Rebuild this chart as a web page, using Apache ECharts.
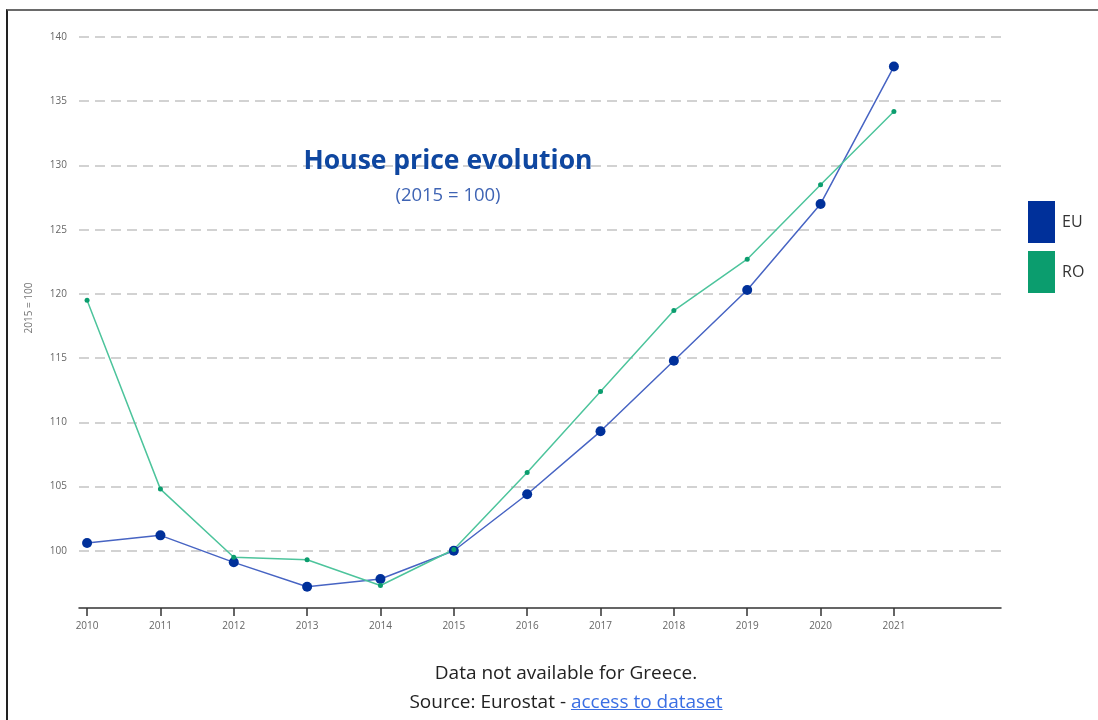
<!DOCTYPE html>
<html>
<head>
<meta charset="utf-8">
<title>House price evolution</title>
<script src="https://cdn.jsdelivr.net/npm/echarts@6/dist/echarts.min.js"></script>
<style>
  html, body { margin: 0; padding: 0; background: #fff; overflow: hidden; }
  #wrap { position: relative; width: 1098px; height: 720px; overflow: hidden; }
  #chart { width: 1098px; height: 720px; }
  #frame {
    position: absolute; left: 6px; top: 9px; width: 1200px; height: 800px;
    border-top: 2px solid #6a6a6a; border-left: 2px solid #222;
    pointer-events: none;
  }
  .note {
    position: absolute; left: 0; width: 1132px; text-align: center;
    font-family: "Open Sans", sans-serif; font-size: 19px; color: #222;
  }
  .note a { color: #3b6fe3; text-decoration: underline; }
</style>
</head>
<body>
<div id="wrap">
  <div id="chart"></div>
  <div id="frame"></div>
  <div class="note" style="top: 659px;">Data not available for Greece.</div>
  <div class="note" style="top: 688px;">Source: Eurostat - <a href="#">access to dataset</a></div>
</div>
<script>
// house price index, 2015 = 100
const years = [2010, 2011, 2012, 2013, 2014, 2015, 2016, 2017, 2018, 2019, 2020, 2021];
const euValues = [100.6, 101.2, 99.1, 97.2, 97.8, 100.0, 104.4, 109.3, 114.8, 120.3, 127.0, 137.7];
const roValues = [119.5, 104.8, 99.5, 99.3, 97.3, 100.1, 106.1, 112.4, 118.7, 122.7, 128.5, 134.2];

const chart = echarts.init(document.getElementById('chart'));

chart.setOption({
    animation: false,
    textStyle: { fontFamily: '"Open Sans", sans-serif' },
    title: [
        {
            text: 'House price evolution',
            left: 443,
            top: 143,
            textAlign: 'center',
            textStyle: { fontSize: 26.5, fontWeight: 'bold', color: '#0f47a0' }
        },
        {
            text: '(2015 = 100)',
            left: 443,
            top: 181,
            textAlign: 'center',
            textStyle: { fontSize: 18.5, fontWeight: 'normal', color: '#3f64b4' }
        }
    ],
    legend: {
        orient: 'vertical',
        left: 1023,
        top: 196,
        itemWidth: 27,
        itemHeight: 42,
        itemGap: 8,
        icon: 'rect',
        textStyle: { fontSize: 16, color: '#333', padding: [0, 0, 0, 2] },
        data: ['EU', 'RO']
    },
    grid: {
        left: 79,
        right: 97,
        top: 37,
        bottom: 105
    },
    xAxis: {
        type: 'value',
        min: 2009.89,
        max: 2022.46,
        offset: -7,
        splitLine: { show: false },
        axisLine: { show: true, onZero: false, lineStyle: { color: '#333', width: 1.5 } },
        axisTick: { show: true, length: 8, customValues: years, lineStyle: { color: '#333', width: 1.5 } },
        axisLabel: {
            customValues: years,
            formatter: v => String(v),
            fontSize: 10,
            color: '#666',
            margin: 13
        }
    },
    yAxis: {
        type: 'value',
        min: 95,
        max: 140,
        interval: 5,
        name: '2015 = 100',
        nameLocation: 'middle',
        nameGap: 45,
        nameTextStyle: { fontSize: 10, color: '#777', padding: [0, 0, 0, 36] },
        axisLine: { show: false },
        axisTick: { show: false },
        axisLabel: {
            fontSize: 10,
            color: '#666',
            margin: 12,
            formatter: v => (v < 100 ? '' : String(v))
        },
        splitLine: {
            show: true,
            showMinLine: false,
            lineStyle: { color: '#c4c4c4', width: 1.5, type: [10, 6] }
        }
    },
    series: [
        {
            name: 'EU',
            type: 'line',
            data: years.map((y, i) => [y, euValues[i]]),
            symbol: 'circle',
            symbolSize: 10,
            itemStyle: { color: '#00309a' },
            lineStyle: { color: '#4764c3', width: 1.5 }
        },
        {
            name: 'RO',
            type: 'line',
            data: years.map((y, i) => [y, roValues[i]]),
            symbol: 'circle',
            symbolSize: 5,
            itemStyle: { color: '#0b9d6e' },
            lineStyle: { color: '#4dc49c', width: 1.5 }
        }
    ]
});
</script>
</body>
</html>
